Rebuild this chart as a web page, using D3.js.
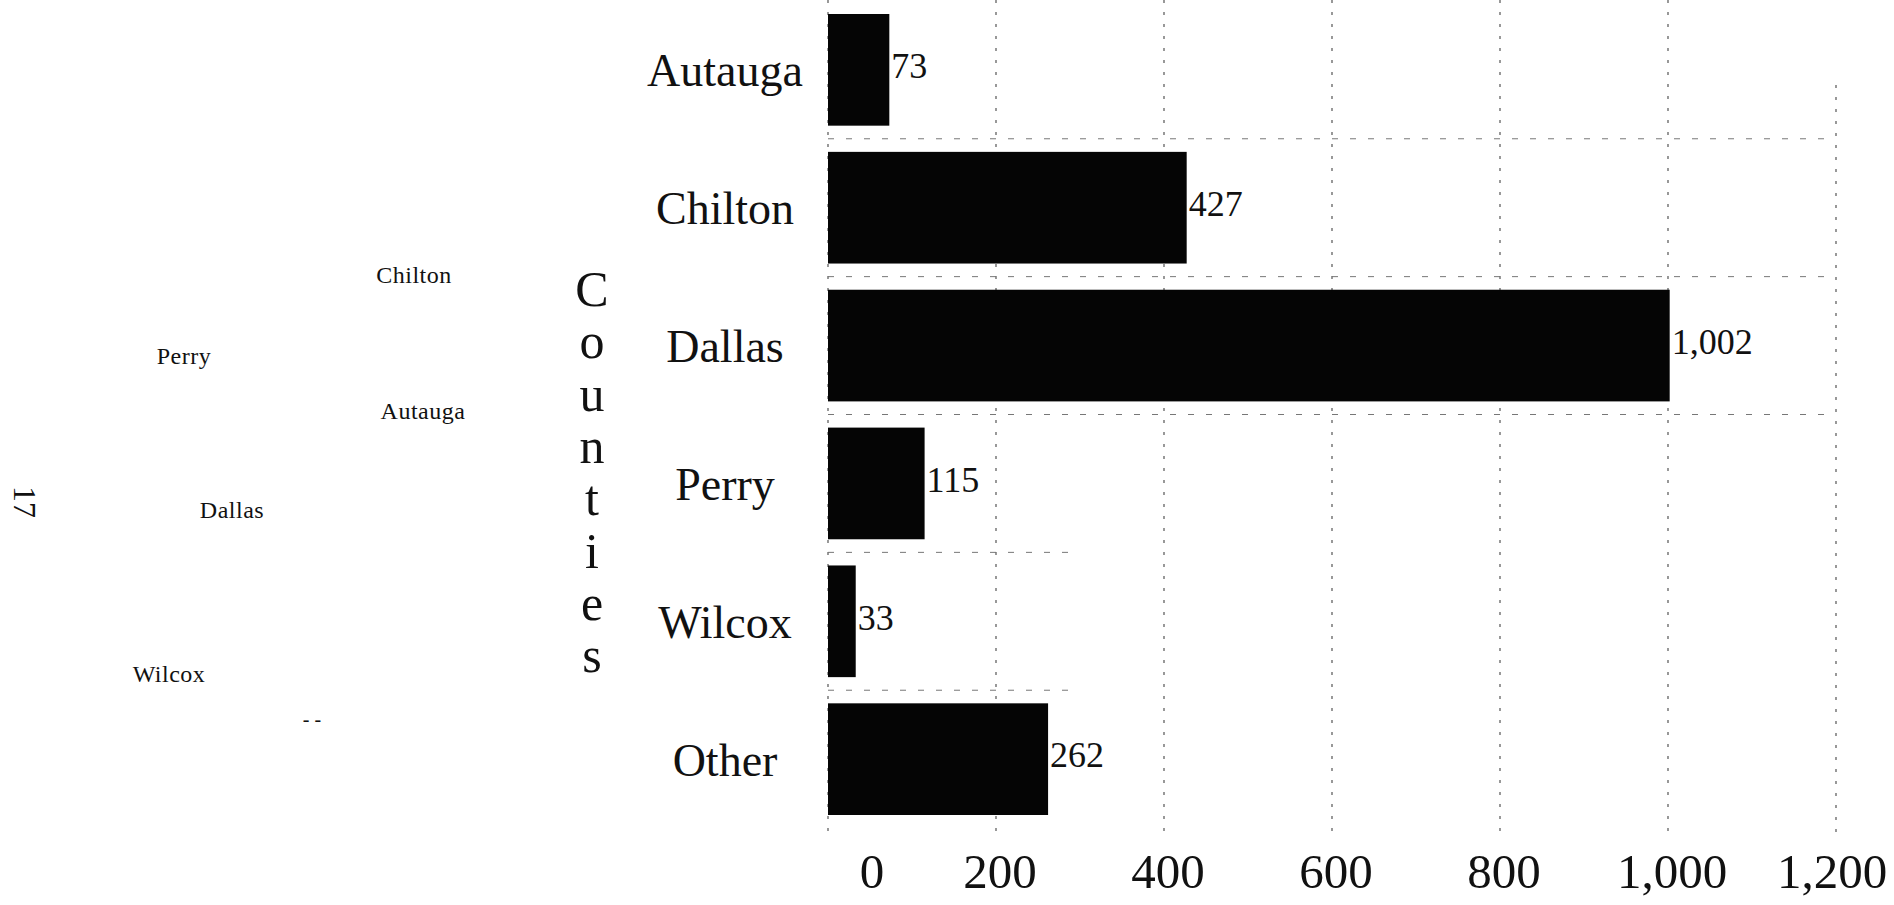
<!DOCTYPE html>
<html>
<head>
<meta charset="utf-8">
<script src="https://cdn.jsdelivr.net/npm/d3@7"></script>
<style>
  body { margin: 0; background: #fff; }
  svg text { font-family: "Liberation Serif", "Times New Roman", serif; fill: #111; }
</style>
</head>
<body>
<div id="chart"></div>
<script>
// Counties and their counts, top to bottom
const counties = ["Autauga", "Chilton", "Dallas", "Perry", "Wilcox", "Other"];
const counts = [73, 427, 1002, 115, 33, 262];
const xTicks = [0, 200, 400, 600, 800, 1000, 1200];
const axisTitle = "Counties";

// stray labels bleeding in from the facing page of the scan
const strayLabels = ["Chilton", "Perry", "Autauga", "Dallas", "Wilcox"];
const strayPos = [[414, 283], [184, 364], [423, 419], [232, 518], [169, 682]];

const width = 1894, height = 905;
const svg = d3.select("#chart").append("svg")
    .attr("width", width)
    .attr("height", height);

const x = d3.scaleLinear().domain([0, 1200]).range([828, 1836]);
const y = d3.scaleBand().domain(counties).range([14, 815]).paddingInner(0.19);

// vertical gridlines (faint, broken up like the scan)
svg.append("g").selectAll("line")
    .data(xTicks)
    .enter().append("line")
    .attr("x1", d => x(d)).attr("x2", d => x(d))
    .attr("y1", d => d === 1200 ? 85 : 0)
    .attr("y2", 835)
    .attr("stroke", "#555")
    .attr("stroke-width", 1.2)
    .attr("stroke-dasharray", "3,9");

// horizontal dashed lines between bars
svg.append("g").selectAll("line")
    .data(counties.slice(0, 5))
    .enter().append("line")
    .attr("x1", x(0))
    .attr("x2", (d, i) => i < 3 ? x(1200) : x(300))
    .attr("y1", d => y(d) + y.bandwidth() + y.step() * 0.095)
    .attr("y2", d => y(d) + y.bandwidth() + y.step() * 0.095)
    .attr("stroke", "#777")
    .attr("stroke-width", 1)
    .attr("stroke-dasharray", "6,12");

// bars
svg.append("g").selectAll("rect")
    .data(counts)
    .enter().append("rect")
    .attr("x", x(0))
    .attr("y", (d, i) => y(counties[i]))
    .attr("width", d => x(d) - x(0))
    .attr("height", y.bandwidth())
    .attr("fill", "#050505");

// value labels
svg.append("g").selectAll("text")
    .data(counts)
    .enter().append("text")
    .attr("x", d => x(d) + 2)
    .attr("y", (d, i) => y(counties[i]) + y.bandwidth() / 2)
    .attr("dominant-baseline", "middle")
    .attr("font-size", 36)
    .text(d => d3.format(",")(d));

// category labels
svg.append("g").selectAll("text")
    .data(counties)
    .enter().append("text")
    .attr("x", 725)
    .attr("y", d => y(d) + y.bandwidth() / 2 + 6)
    .attr("text-anchor", "middle")
    .attr("dominant-baseline", "middle")
    .attr("font-size", 46)
    .text(d => d);

// x tick labels
svg.append("g").selectAll("text")
    .data(xTicks)
    .enter().append("text")
    .attr("x", d => x(d) + (d === 0 ? 44 : d === 1200 ? -4 : 4))
    .attr("y", 888)
    .attr("text-anchor", "middle")
    .attr("font-size", 49)
    .text(d => d3.format(",")(d));

// stacked y-axis title
svg.append("text")
    .attr("text-anchor", "middle")
    .attr("font-size", 50)
    .selectAll("tspan")
    .data(axisTitle.split(""))
    .enter().append("tspan")
    .attr("x", 592)
    .attr("y", (d, i) => 306 + i * 52.3)
    .text(d => d);

// bits of the facing page
svg.append("g").selectAll("text")
    .data(strayLabels)
    .enter().append("text")
    .attr("x", (d, i) => strayPos[i][0])
    .attr("y", (d, i) => strayPos[i][1])
    .attr("text-anchor", "middle")
    .attr("font-size", 24)
    .attr("letter-spacing", 0.5)
    .text(d => d);

svg.append("text")
    .attr("transform", "translate(14,502) rotate(90)")
    .attr("text-anchor", "middle")
    .attr("font-size", 32)
    .text("17");

svg.append("text")
    .attr("x", 312).attr("y", 726)
    .attr("text-anchor", "middle")
    .attr("font-size", 20)
    .text("- -");
</script>
</body>
</html>
